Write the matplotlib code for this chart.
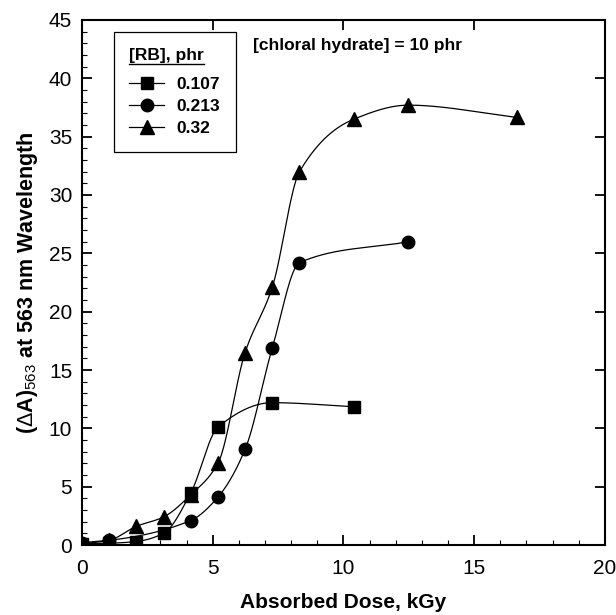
import matplotlib
matplotlib.use('Agg')
import matplotlib.pyplot as plt
import numpy as np
from matplotlib.lines import Line2D

plt.rcParams['font.family'] = ['Liberation Sans', 'DejaVu Sans']
plt.rcParams['mathtext.fontset'] = 'custom'
plt.rcParams['mathtext.rm'] = 'Liberation Sans'
plt.rcParams['mathtext.it'] = 'Liberation Sans:italic'
plt.rcParams['mathtext.bf'] = 'Liberation Sans:bold'

# data (dose in kGy, absorbance change)
dose_sq = [0, 1.04, 2.08, 3.12, 4.16, 5.2, 7.28, 10.4]
dA_sq = [0.1, 0.15, 0.3, 1.0, 4.45, 10.1, 12.2, 11.85]

dose_ci = [0, 1.04, 4.16, 5.2, 6.24, 7.28, 8.32, 12.48]
dA_ci = [0.2, 0.4, 2.1, 4.1, 8.2, 16.9, 24.2, 26.0]

dose_tr = [0, 1.04, 2.08, 3.12, 4.16, 5.2, 6.24, 7.28, 8.32, 10.4, 12.48, 16.64]
dA_tr = [0.1, 0.4, 1.6, 2.4, 4.3, 7.0, 16.5, 22.1, 32.0, 36.5, 37.7, 36.65]

labels = ['0.107', '0.213', '0.32']
markers = ['s', 'o', '^']


def smooth_curve(x, y, n=400):
    # monotone cubic (Fritsch-Carlson) just to draw the smooth connector
    x = np.asarray(x, float)
    y = np.asarray(y, float)
    h = np.diff(x)
    d = np.diff(y) / h
    m = np.zeros_like(y)
    for i in range(1, len(x) - 1):
        if d[i - 1] * d[i] > 0:
            w1 = 2 * h[i] + h[i - 1]
            w2 = h[i] + 2 * h[i - 1]
            m[i] = (w1 + w2) / (w1 / d[i - 1] + w2 / d[i])
    m[0] = d[0]
    m[-1] = d[-1]
    xs = np.linspace(x[0], x[-1], n)
    idx = np.clip(np.searchsorted(x, xs) - 1, 0, len(x) - 2)
    t = (xs - x[idx]) / h[idx]
    h00 = 2 * t ** 3 - 3 * t ** 2 + 1
    h10 = t ** 3 - 2 * t ** 2 + t
    h01 = -2 * t ** 3 + 3 * t ** 2
    h11 = t ** 3 - t ** 2
    ys = h00 * y[idx] + h10 * h[idx] * m[idx] + h01 * y[idx + 1] + h11 * h[idx] * m[idx + 1]
    return xs, ys


fig = plt.figure(figsize=(6.16, 6.15), dpi=100)
ax = fig.add_axes([0.133, 0.1138, 0.849, 0.8537])

series = [(dose_sq, dA_sq), (dose_ci, dA_ci), (dose_tr, dA_tr)]
for (xd, yd), lab, mk in zip(series, labels, markers):
    xs, ys = smooth_curve(xd, yd)
    ax.plot(xs, ys, color='black', linewidth=0.9)
    ax.plot(xd, yd, linestyle='none', marker=mk, color='black', markersize=9.5 if mk == '^' else 9)

handles = [Line2D([], [], color='black', linewidth=0.9, marker=mk, markersize=9.5 if mk == '^' else 9)
           for mk in markers]
leg = ax.legend(handles, labels, title='[RB], phr', loc='upper left',
                bbox_to_anchor=(0.061, 0.977), borderaxespad=0, fancybox=False,
                edgecolor='black', framealpha=1, numpoints=1, handlelength=2.0,
                handletextpad=0.7, labelspacing=0.4, borderpad=0.9,
                prop={'weight': 'bold', 'size': 12.5},
                title_fontproperties={'weight': 'bold', 'size': 12.5})
leg.get_frame().set_linewidth(0.9)
leg._legend_box.align = 'left'
leg._legend_box.sep = 10

ax.text(0.327, 0.952, '[chloral hydrate] = 10 phr', transform=ax.transAxes,
        fontsize=12.5, fontweight='bold', va='center', ha='left')

ax.set_xlim(0, 20)
ax.set_ylim(0, 45)
ax.set_xticks(np.arange(0, 21, 5))
ax.set_yticks(np.arange(0, 46, 5))
ax.set_xticks(np.arange(0, 21, 1), minor=True)
ax.set_yticks(np.arange(0, 46, 1), minor=True)
ax.tick_params(which='both', direction='in', top=True, right=True, labelsize=15)
ax.tick_params(which='major', length=7, width=1.3, pad=7)
ax.tick_params(axis='x', which='major', pad=10)
ax.tick_params(which='minor', length=3.5, width=0.8, top=False, right=False)
for sp in ax.spines.values():
    sp.set_linewidth(1.5)

ax.set_xlabel('Absorbed Dose, kGy', fontsize=15, fontweight='bold', labelpad=11)
ax.set_ylabel(r'($\Delta$A)$_{563}$ at 563 nm Wavelength', fontsize=15.5,
              fontweight='bold', labelpad=6)

# underline the legend title
fig.canvas.draw()
bb = leg.get_title().get_window_extent()
W, H = fig.get_size_inches() * fig.dpi
yline = (bb.y0 - 1.5) / H
fig.add_artist(Line2D([bb.x0 / W, bb.x1 / W], [yline, yline], color='black',
                      linewidth=1.0, transform=fig.transFigure))

fig.savefig('out.png', dpi=100)
